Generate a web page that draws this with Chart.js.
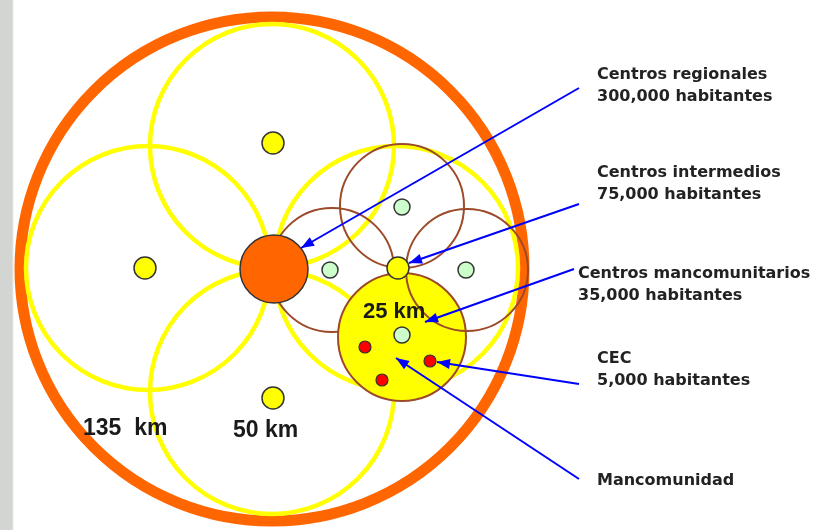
<!DOCTYPE html>
<html>
<head>
<meta charset="utf-8">
<script src="https://cdn.jsdelivr.net/npm/chart.js@4/dist/chart.umd.min.js"></script>
<style>
  body { margin: 0; background: #fff; }
  #wrap { width: 815px; height: 530px; background: linear-gradient(to right, #d2d5d2 0, #d2d5d2 12px, #fff 14px); }
</style>
</head>
<body>
<div id="wrap"><canvas id="myChart"></canvas></div>
<script>
// diagram units: 0..815 across, 0..530 down

// limit of the region (orange ring)
const regionX = [272];
const regionY = [269];
const regionR = [252];

// areas of the regional centres (yellow rings)
const areaX = [272, 148, 272, 396];
const areaY = [146, 268, 392, 268];
const areaR = [122, 122, 122, 122];

// areas of intermediate centres (brown rings)
const zoneX = [402, 332];
const zoneY = [206, 270];
const zoneR = [62, 62];
const zoneFrontX = [467];
const zoneFrontY = [270];
const zoneFrontR = [61];

// the mancomunidad (filled yellow)
const mancoX = [402];
const mancoY = [337];
const mancoR = [64];

// centres
const regionalX = [274];
const regionalY = [269];
const regionalR = [34];

const intermX = [273, 145, 273, 398];
const intermY = [143, 268, 398, 268];
const intermR = [11, 11, 11, 11];

const mancomX = [402, 330, 466, 402];
const mancomY = [207, 270, 270, 335];
const mancomR = [8, 8, 8, 8];

const cecX = [365, 430, 382];
const cecY = [347, 361, 380];
const cecR = [6, 6, 6];

// legend texts
const legendLines = [
    ["Centros regionales", "300,000 habitantes"],
    ["Centros intermedios", "75,000 habitantes"],
    ["Centros mancomunitarios", "35,000 habitantes"],
    ["CEC", "5,000 habitantes"],
    ["Mancomunidad"]
];
const legendX = [597, 597, 578, 597, 597];
const legendY = [79, 177, 278, 363, 485];

// arrows from the legend to the items
const arrowFromX = [579, 579, 574, 579, 579];
const arrowFromY = [88, 204, 269, 384, 479];
const arrowToX = [301, 409, 425, 437, 396];
const arrowToY = [248, 263, 322, 362, 358];

// distance labels
const kmLabels = ["135  km", "50 km", "25 km"];
const kmX = [83, 233, 363];
const kmY = [435, 437, 318];
const kmSize = [23, 23, 22];

// radius in data units -> pixels through the x scale
const radiusPx = (ctx) => {
    const s = ctx.chart.scales.x;
    const v = ctx.raw && ctx.raw.r;
    if (!v || !s) return 0;
    return Math.abs(s.getPixelForValue(v) - s.getPixelForValue(0));
};

function circles(xs, ys, rs, fill, stroke, width, order) {
    return {
        data: xs.map((x, i) => ({x: x, y: ys[i], r: rs[i]})),
        pointRadius: radiusPx,
        pointBackgroundColor: fill,
        pointBorderColor: stroke,
        pointBorderWidth: width,
        showLine: false,
        order: order,
    };
}

const datasets = [
    circles(regionX, regionY, regionR, "rgba(0,0,0,0)", "#ff6600", 11, 20),
    circles(areaX, areaY, areaR, "rgba(0,0,0,0)", "#ffff00", 4.5, 19),
    circles(zoneX, zoneY, zoneR, "rgba(0,0,0,0)", "#9c4a28", 2, 18),
    circles(mancoX, mancoY, mancoR, "#ffff00", "#9c4a28", 2, 17),
    circles(zoneFrontX, zoneFrontY, zoneFrontR, "rgba(0,0,0,0)", "#9c4a28", 2, 16),
    circles(regionalX, regionalY, regionalR, "#ff6600", "#333333", 1.5, 15),
    circles(intermX, intermY, intermR, "#ffff00", "#333333", 1.5, 14),
    circles(mancomX, mancomY, mancomR, "#ccffcc", "#333333", 1.5, 13),
    circles(cecX, cecY, cecR, "#ff0000", "#333333", 1.2, 12),
];

//Arrows
arrowFromX.forEach((fx, i) => {
    datasets.push({
        data: [{x: fx, y: arrowFromY[i]}, {x: arrowToX[i], y: arrowToY[i]}],
        showLine: true,
        borderColor: "#0000ff",
        borderWidth: 2,
        pointRadius: 0,
        order: 1,
        arrow: true,
    });
});

const overlay = {
    id: "overlay",
    afterDatasetsDraw(chart) {
        const ctx = chart.ctx;
        const xs = chart.scales.x, ys = chart.scales.y;

        // arrow heads
        chart.data.datasets.forEach((ds, i) => {
            if (!ds.arrow) return;
            const pts = chart.getDatasetMeta(i).data;
            const a = pts[0], b = pts[1];
            const ang = Math.atan2(b.y - a.y, b.x - a.x);
            const len = 13, half = 5;
            const bx = b.x - len * Math.cos(ang), by = b.y - len * Math.sin(ang);
            ctx.save();
            ctx.fillStyle = ds.borderColor;
            ctx.beginPath();
            ctx.moveTo(b.x, b.y);
            ctx.lineTo(bx + half * Math.sin(ang), by - half * Math.cos(ang));
            ctx.lineTo(bx - half * Math.sin(ang), by + half * Math.cos(ang));
            ctx.closePath();
            ctx.fill();
            ctx.restore();
        });

        ctx.save();
        ctx.textBaseline = "alphabetic";
        ctx.textAlign = "left";

        // km labels
        ctx.fillStyle = "#1a1a1a";
        kmLabels.forEach((t, i) => {
            ctx.font = "bold " + kmSize[i] + "px 'Liberation Sans', Arial, sans-serif";
            ctx.fillText(t, xs.getPixelForValue(kmX[i]), ys.getPixelForValue(kmY[i]));
        });

        // legend
        ctx.fillStyle = "#222222";
        ctx.font = "bold 16px 'DejaVu Sans', sans-serif";
        legendLines.forEach((lines, i) => {
            lines.forEach((t, j) => {
                ctx.fillText(t, xs.getPixelForValue(legendX[i]), ys.getPixelForValue(legendY[i] + j * 22));
            });
        });
        ctx.restore();
    }
};

const myChart = new Chart(document.getElementById("myChart"), {
    type: "scatter",
    data: {datasets},
    options: {
        responsive: true,
        maintainAspectRatio: false,
        animation: false,
        events: [],
        layout: {padding: 0},
        plugins: {legend: {display: false}, tooltip: {enabled: false}},
        scales: {
            x: {type: "linear", min: 0, max: 815, display: false},
            y: {type: "linear", min: 0, max: 530, reverse: true, display: false},
        },
    },
    plugins: [overlay],
});
</script>
</body>
</html>
